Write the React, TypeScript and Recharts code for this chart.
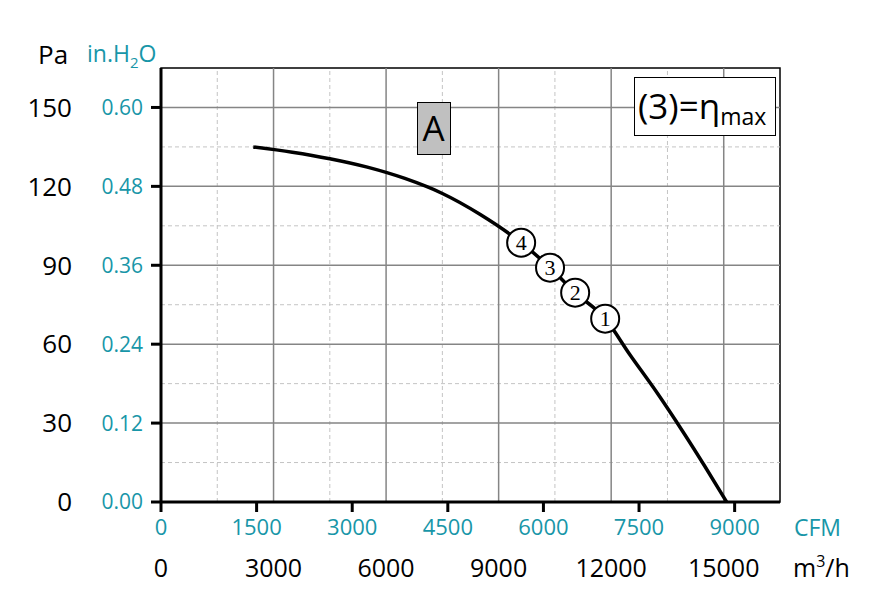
import React from "react";
import { ComposedChart, Line, Scatter, XAxis, YAxis, ReferenceLine, ReferenceArea } from "recharts";

// fan curve: flow in m3/h, static pressure in Pa
const curveFlow = [2460, 3500, 4500, 5500, 6500, 7500, 8500, 9600, 10370, 11040, 11840, 12500, 13200, 13900, 14500, 15080];
const curvePa = [135.0, 133.0, 130.5, 127.3, 123.0, 117.3, 109.4, 98.6, 89.1, 79.6, 69.7, 56.0, 42.0, 27.0, 13.5, 0];

// operating points 1..4 on the curve
const markerFlow = [11840, 11040, 10370, 9600];
const markerPa = [69.7, 79.6, 89.1, 98.6];
const markerLabels = ["1", "2", "3", "4"];

const m3hTicks = [0, 3000, 6000, 9000, 12000, 15000];
const cfmTicks = [0, 1500, 3000, 4500, 6000, 7500, 9000];
const paTicks = [0, 30, 60, 90, 120, 150];
const inH2OTicks = [0, 0.12, 0.24, 0.36, 0.48, 0.6];

const gridMajorX = [3000, 6000, 9000, 12000, 15000];
const gridMinorX = [1500, 4500, 7500, 10500, 13500];
const gridMajorY = [30, 60, 90, 120, 150];
const gridMinorY = [15, 45, 75, 105, 135];

const M3H_MAX = 16500;
const PA_MAX = 165;
const M3H_PER_CFM = 1.699;
const INH2O_PER_PA = 0.004;

const TEAL = "#1896a8";
const FONT = "'Open Sans', 'Noto Sans', sans-serif";

const curveData = curveFlow.map((q, i) => ({
  q,
  p: curvePa[i],
  c: q / M3H_PER_CFM,
  h: curvePa[i] * INH2O_PER_PA,
}));
const markerData = markerFlow.map((q, i) => ({ q, p: markerPa[i], n: markerLabels[i] }));

const Marker = (props: any) => {
  const { cx, cy, payload } = props;
  if (cx == null || cy == null) return null;
  return (
    <g>
      <circle cx={cx} cy={cy} r={14} fill="#fff" stroke="#000" strokeWidth={2} />
      <text x={cx} y={cy + 7} textAnchor="middle" fontFamily="'Liberation Serif', 'DejaVu Serif', serif" fontSize={22} fill="#000">
        {payload.n}
      </text>
    </g>
  );
};

export default function App() {
  return (
    <div style={{ position: "absolute", left: 0, top: 0, width: 896, height: 602, background: "#fff" }}>
      <ComposedChart width={896} height={602} margin={{ top: 68, right: 116, bottom: 0, left: 0 }}>
        <XAxis
          xAxisId="cfm"
          dataKey="c"
          type="number"
          domain={[0, M3H_MAX / M3H_PER_CFM]}
          ticks={cfmTicks}
          allowDataOverflow
          height={45}
          tickSize={10}
          tickMargin={7}
          axisLine={{ stroke: "#000", strokeWidth: 3 }}
          tickLine={{ stroke: "#000", strokeWidth: 3 }}
          tick={{ fill: TEAL, fontSize: 22, fontFamily: FONT }}
        />
        <XAxis
          xAxisId="m3"
          dataKey="q"
          type="number"
          domain={[0, M3H_MAX]}
          ticks={m3hTicks}
          height={55}
          tickSize={0}
          tickMargin={12}
          axisLine={false}
          tickLine={false}
          tick={{ fill: "#000", fontSize: 25, fontFamily: FONT }}
        />
        <YAxis
          yAxisId="in"
          dataKey="h"
          type="number"
          domain={[0, PA_MAX * INH2O_PER_PA]}
          ticks={inH2OTicks}
          allowDataOverflow
          width={81}
          tickSize={10}
          tickMargin={8}
          tickFormatter={(v: number) => v.toFixed(2)}
          axisLine={{ stroke: "#000", strokeWidth: 3 }}
          tickLine={{ stroke: "#000", strokeWidth: 3 }}
          tick={{ fill: TEAL, fontSize: 21, fontFamily: FONT }}
        />
        <YAxis
          yAxisId="pa"
          dataKey="p"
          type="number"
          domain={[0, PA_MAX]}
          ticks={paTicks}
          width={80}
          tickSize={0}
          tickMargin={8}
          axisLine={false}
          tickLine={false}
          tick={{ fill: "#000", fontSize: 26, fontFamily: FONT }}
        />

        {gridMinorX.map((v) => (
          <ReferenceLine key={"mx" + v} xAxisId="m3" yAxisId="pa" x={v} stroke="#c4c4c4" strokeDasharray="4 3" />
        ))}
        {gridMinorY.map((v) => (
          <ReferenceLine key={"my" + v} xAxisId="m3" yAxisId="pa" y={v} stroke="#c4c4c4" strokeDasharray="4 3" />
        ))}
        {gridMajorX.map((v) => (
          <ReferenceLine key={"gx" + v} xAxisId="m3" yAxisId="pa" x={v} stroke="#858585" strokeWidth={1.5} />
        ))}
        {gridMajorY.map((v) => (
          <ReferenceLine key={"gy" + v} xAxisId="m3" yAxisId="pa" y={v} stroke="#858585" strokeWidth={1.5} />
        ))}
        <ReferenceArea xAxisId="m3" yAxisId="pa" x1={0} x2={M3H_MAX} y1={0} y2={PA_MAX} fill="none" stroke="#000" strokeWidth={1.5} />

        {/* same curve in CFM / in.H2O units, invisible, so those axes get their scale */}
        <Line
          xAxisId="cfm"
          yAxisId="in"
          data={curveData}
          dataKey="h"
          stroke="none"
          dot={false}
          activeDot={false}
          isAnimationActive={false}
        />
        <Line
          xAxisId="m3"
          yAxisId="pa"
          data={curveData}
          dataKey="p"
          type="monotone"
          stroke="#000"
          strokeWidth={3.5}
          dot={false}
          isAnimationActive={false}
        />
        <Scatter xAxisId="m3" yAxisId="pa" data={markerData} dataKey="p" shape={Marker} isAnimationActive={false} />
      </ComposedChart>

      <svg width={896} height={602} style={{ position: "absolute", left: 0, top: 0, pointerEvents: "none" }}>
        <text x={38} y={64} fontFamily={FONT} fontSize={26} fill="#000">Pa</text>
        <text x={87} y={62} fontFamily={FONT} fontSize={23} fill={TEAL}>
          in.H<tspan fontSize={15} dy={6}>2</tspan><tspan dy={-6}>O</tspan>
        </text>
        <text x={794} y={536} fontFamily={FONT} fontSize={23} fill={TEAL}>CFM</text>
        <text x={793} y={577} fontFamily={FONT} fontSize={25} fill="#000">
          m<tspan fontSize={16} dy={-10}>3</tspan><tspan dy={10}>/h</tspan>
        </text>

        <rect x={417.5} y={102.5} width={33} height={52} fill="#c0c0c0" stroke="#000" strokeWidth={1} />
        <text x={433.5} y={141} textAnchor="middle" fontFamily={FONT} fontSize={35} fill="#000">A</text>

        <rect x={634.5} y={77.5} width={141} height={58} fill="#fff" stroke="#000" strokeWidth={1} />
        <text x={638} y={119} fontFamily={FONT} fontSize={35} fill="#000">
          (3)=η<tspan fontSize={23} dy={6}>max</tspan>
        </text>
      </svg>
    </div>
  );
}
